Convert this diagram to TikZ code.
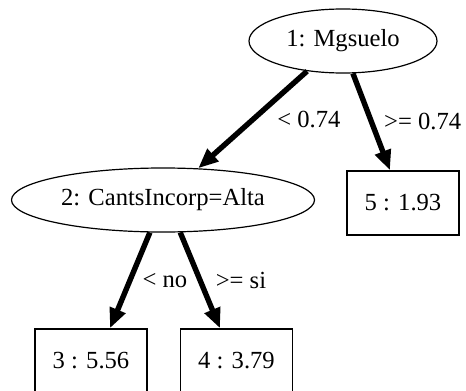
\documentclass[tikz,border=0pt]{standalone}
\usepackage{fontspec}
\setmainfont{Liberation Serif}
\usetikzlibrary{arrows.meta, shapes.geometric}

\begin{document}
\begin{tikzpicture}[
    x=0.5pt, y=-0.5pt,
    font=\fontsize{12.3}{14}\selectfont,
    split/.style={ellipse, draw, line width=0.6pt, minimum width=94pt, minimum height=32pt, inner sep=0pt},
    leaf/.style={rectangle, draw, line width=0.7pt, minimum width=56pt, minimum height=32pt, inner sep=0pt},
    arrow/.style={-{Triangle[length=10pt, width=8pt]}, line width=2.7pt},
    cond/.style={inner sep=0pt}
]
\path[use as bounding box, clip] (0,0) rectangle (466,391);

\node[split] (mg) at (343,41) {1: Mgsuelo};
\node[split, minimum width=151.5pt] (cants) at (163,200) {2: CantsIncorp=Alta};
\node[leaf] (l5) at (403,203) {5 : 1.93};
\node[leaf] (l3) at (91,361) {3 : 5.56};
\node[leaf] (l4) at (236.5,361) {4 : 3.79};

\draw[arrow] (mg.220) -- node[cond, right=11pt] {< 0.74} (cants.42);
\draw[arrow] (mg.287) -- node[cond, right=5pt] {>= 0.74} ([xshift=-6.5pt]l5.north);
\draw[arrow] (cants.248) -- node[cond, right=5pt] {< no} ([xshift=9.5pt]l3.north);
\draw[arrow] (cants.298) -- node[cond, right=6.5pt] {>= si} ([xshift=-8.25pt]l4.north);
\end{tikzpicture}
\end{document}
